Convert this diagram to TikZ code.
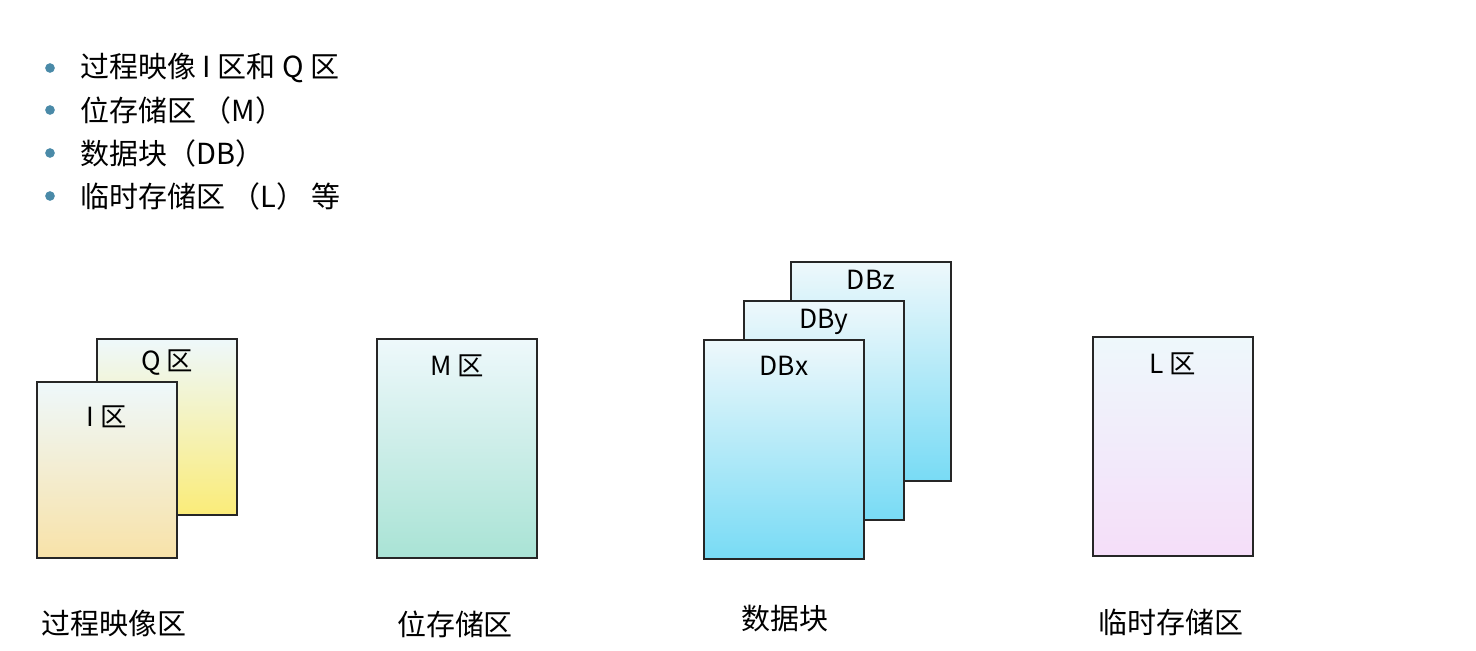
\documentclass[tikz,border=0pt]{standalone}
\usepackage{fontspec}
\setmainfont{Noto Sans CJK SC}
\usepackage{tikz}
\usetikzlibrary{positioning}
\definecolor{MZTop}{HTML}{EEF8FB}
\definecolor{IZBot}{HTML}{F8E2A8}
\definecolor{QZBot}{HTML}{FBEC78}
\definecolor{MZBot}{HTML}{A9E3D5}
\definecolor{DBBot}{HTML}{78DBF5}
\definecolor{LZBot}{HTML}{F5DEF9}
\definecolor{BulBlue}{HTML}{4A8AA8}

\begin{document}
\begin{tikzpicture}[x=0.02cm,y=-0.02cm,
  page/.style={draw=black!85,line width=1.1pt,inner sep=0pt,anchor=north west,top color=MZTop},
  smallpg/.style={minimum width=2.8cm,minimum height=3.53cm},
  bigpg/.style={minimum width=3.2cm,minimum height=4.38cm},
  tagtxt/.style={font=\fontsize{15}{17}\selectfont,below=0.22cm,anchor=north},
  captxt/.style={font=\fontsize{16.5}{19}\selectfont},
  bul/.style={circle,fill=BulBlue,inner sep=0pt,minimum size=5.5pt}]
\useasboundingbox (0,0) rectangle (1476,650);
% bullet list
\foreach \y/\t [count=\i] in {68/过程映像 I 区和 Q 区,110/位存储区 （M）,153/数据块（DB）,196/临时存储区 （L） 等}{
  \node[bul] (b\i) at (50,\y) {};
  \node[captxt,anchor=west] (t\i) at (74,\y) {\t};
}
% process image
\node[page,smallpg,bottom color=QZBot] (q) at (96,338) {};
\node[page,smallpg,bottom color=IZBot] (i) at (36,381) {};
\node[tagtxt,below=0.12cm] (qt) at (q.north) {Q 区};
\node[tagtxt,below=0.38cm] (it) at (i.north) {I 区};
% bit memory
\node[page,bigpg,bottom color=MZBot] (m) at (376,338) {};
\node[tagtxt] (mt) at (m.north) {M 区};
% data blocks
\node[page,bigpg,bottom color=DBBot] (dbz) at (790,261) {};
\node[page,bigpg,bottom color=DBBot] (dby) at (743,300) {};
\node[page,bigpg,bottom color=DBBot] (dbx) at (703,339) {};
\node[tagtxt,below=0.05cm] (zt) at (dbz.north) {DBz};
\node[tagtxt,below=0.05cm] (yt) at (dby.north) {DBy};
\node[tagtxt] (xt) at (dbx.north) {DBx};
% local data
\node[page,bigpg,bottom color=LZBot] (l) at (1092,336) {};
\node[tagtxt] (lt) at (l.north) {L 区};
% captions
\node[captxt] (ci) at (114,624) {过程映像区};
\node[captxt] (cm) at (455,624) {位存储区};
\node[captxt] (cd) at (785,618) {数据块};
\node[captxt] (cl) at (1171,622) {临时存储区};
\end{tikzpicture}
\end{document}
